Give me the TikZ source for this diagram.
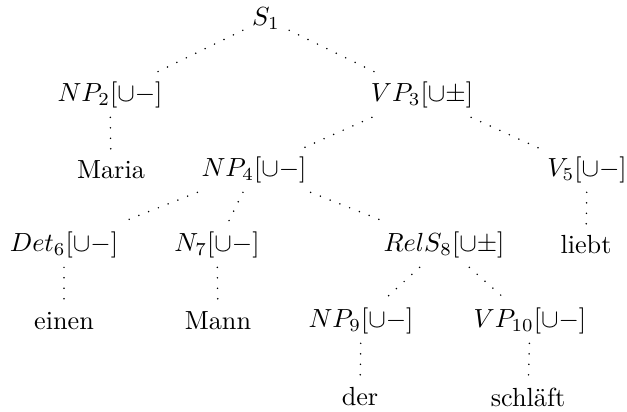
\documentclass[tikz,border=0pt]{standalone}
\usepackage{amsmath,amssymb}
\usetikzlibrary{positioning}

\begin{document}
\begin{tikzpicture}[x=0.3817pt, y=-0.3817pt,
    branch/.style={line width=0.65pt, line cap=round, dash pattern=on 0pt off 4pt}]
    \useasboundingbox (0,0) rectangle (627,412);

    % root and first level
    \node (s1)   at (266,19)  {$S_1$};
    \node (np2)  at (110,95)  {$NP_2[\cup -]$};
    \node (vp3)  at (422,95)  {$VP_3[\cup \pm]$};

    % second level
    \node (maria) at (111,170) {Maria};
    \node (np4)   at (254,170) {$NP_4[\cup -]$};
    \node (v5)    at (587,170) {$V_5[\cup -]$};

    % third level
    \node (det6)  at (64,245)  {$Det_6[\cup -]$};
    \node (n7)    at (217,245) {$N_7[\cup -]$};
    \node (rels8) at (444,245) {$RelS_8[\cup \pm]$};
    \node (liebt) at (586,245) {liebt};

    % fourth level
    \node (einen) at (64,321)  {einen};
    \node (mann)  at (218,321) {Mann};
    \node (np9)   at (361,321) {$NP_9[\cup -]$};
    \node (vp10)  at (530,321) {$VP_{10}[\cup -]$};

    % leaves of the relative clause
    \node (der)     at (360,397) {der};
    \node (schlaft) at (528,397) {schl\"aft};

    % dotted branches
    \draw[branch] (s1) -- (np2);
    \draw[branch] (s1) -- (vp3);
    \draw[branch] (np2) -- (maria);
    \draw[branch] (vp3) -- (np4);
    \draw[branch] (vp3) -- (v5);
    \draw[branch] (np4) -- (det6);
    \draw[branch] (np4) -- (n7);
    \draw[branch] (np4) -- (rels8);
    \draw[branch] (v5) -- (liebt);
    \draw[branch] (det6) -- (einen);
    \draw[branch] (n7) -- (mann);
    \draw[branch] (rels8) -- (np9);
    \draw[branch] (rels8) -- (vp10);
    \draw[branch] (np9) -- (der);
    \draw[branch] (vp10) -- (schlaft);
\end{tikzpicture}
\end{document}
